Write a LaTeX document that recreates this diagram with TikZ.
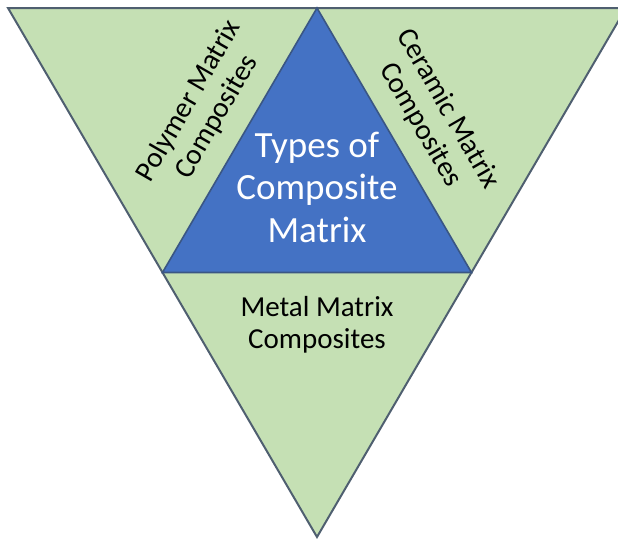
\documentclass[tikz,border=0pt]{standalone}
\usepackage{fontspec}
\setmainfont{Carlito}
\definecolor{leaf}{HTML}{C5E0B4}
\definecolor{core}{HTML}{4472C4}
\definecolor{rim}{HTML}{4F5F70}
\definecolor{corerim}{HTML}{3A5684}
\begin{document}
\begin{tikzpicture}[x=1pt,y=-1pt,
  outerline/.style={draw=rim,line width=2pt,fill=leaf,line join=miter},
  innerline/.style={draw=corerim,line width=1.6pt,fill=core,line join=miter},
  sidetext/.style={font=\fontsize{29}{32}\selectfont,align=center,text=black,inner sep=0pt},
  maintext/.style={font=\fontsize{37}{42.5}\selectfont,align=center,text=white,inner sep=0pt}]
\useasboundingbox (0,0) rectangle (618,538);
\coordinate (TL) at (8,8);
\coordinate (TR) at (626,8);
\coordinate (B) at (317,537);
\coordinate (A) at (317,8);
\coordinate (L) at (162.5,272.5);
\coordinate (R) at (471.5,272.5);
\draw[outerline] (TL) -- (TR) -- (B) -- cycle;
\draw[innerline] (A) -- (R) -- (L) -- cycle;
\node[maintext] (types) at (317,187) {Types of\\Composite\\Matrix};
\node[sidetext] (metal) at (317,325) {Metal Matrix\\Composites};
\node[sidetext,rotate=60] (polymer) at (203,109) {Polymer Matrix\\Composites};
\node[sidetext,rotate=-60] (ceramic) at (434,117) {Ceramic Matrix\\Composites};
\end{tikzpicture}
\end{document}
